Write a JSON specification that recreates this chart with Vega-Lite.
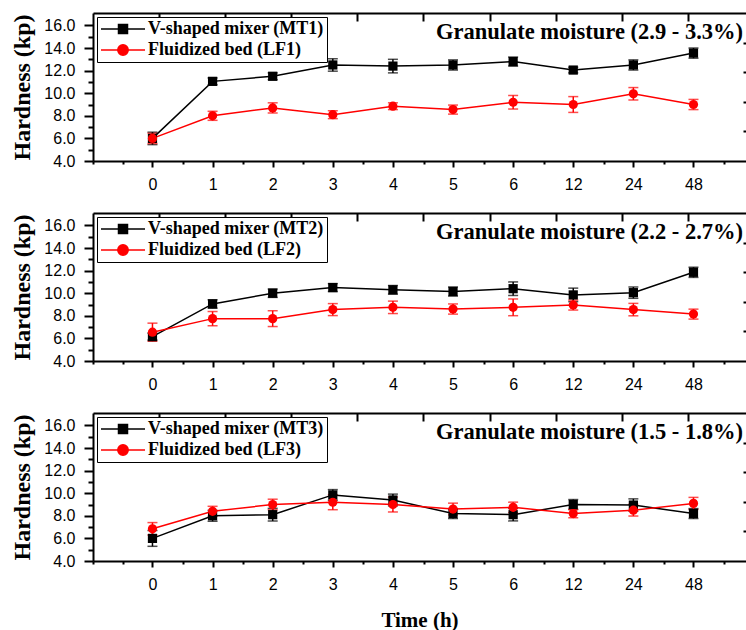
{
  "$schema": "https://vega.github.io/schema/vega-lite/v6.json",
  "padding": {"left": 10, "top": 12, "right": 0, "bottom": 0},
  "background": "white",
  "bounds": "flush",
  "spacing": 52,
  "datasets": {
    "d": [
      {"p":1,"s":"V-shaped mixer (MT1)","t":"0","h":6.0,"e":0.55},
      {"p":1,"s":"V-shaped mixer (MT1)","t":"1","h":11.05,"e":0.3},
      {"p":1,"s":"V-shaped mixer (MT1)","t":"2","h":11.5,"e":0.3},
      {"p":1,"s":"V-shaped mixer (MT1)","t":"3","h":12.5,"e":0.55},
      {"p":1,"s":"V-shaped mixer (MT1)","t":"4","h":12.4,"e":0.6},
      {"p":1,"s":"V-shaped mixer (MT1)","t":"5","h":12.5,"e":0.45},
      {"p":1,"s":"V-shaped mixer (MT1)","t":"6","h":12.8,"e":0.4},
      {"p":1,"s":"V-shaped mixer (MT1)","t":"12","h":12.05,"e":0.25},
      {"p":1,"s":"V-shaped mixer (MT1)","t":"24","h":12.5,"e":0.45},
      {"p":1,"s":"V-shaped mixer (MT1)","t":"48","h":13.55,"e":0.45},
      {"p":1,"s":"Fluidized bed (LF1)","t":"0","h":6.0,"e":0.45},
      {"p":1,"s":"Fluidized bed (LF1)","t":"1","h":8.0,"e":0.4},
      {"p":1,"s":"Fluidized bed (LF1)","t":"2","h":8.7,"e":0.45},
      {"p":1,"s":"Fluidized bed (LF1)","t":"3","h":8.1,"e":0.35},
      {"p":1,"s":"Fluidized bed (LF1)","t":"4","h":8.85,"e":0.3},
      {"p":1,"s":"Fluidized bed (LF1)","t":"5","h":8.55,"e":0.4},
      {"p":1,"s":"Fluidized bed (LF1)","t":"6","h":9.2,"e":0.6},
      {"p":1,"s":"Fluidized bed (LF1)","t":"12","h":9.0,"e":0.7},
      {"p":1,"s":"Fluidized bed (LF1)","t":"24","h":9.95,"e":0.55},
      {"p":1,"s":"Fluidized bed (LF1)","t":"48","h":9.0,"e":0.45},
      {"p":2,"s":"V-shaped mixer (MT2)","t":"0","h":6.15,"e":0.3},
      {"p":2,"s":"V-shaped mixer (MT2)","t":"1","h":9.05,"e":0.37},
      {"p":2,"s":"V-shaped mixer (MT2)","t":"2","h":10.0,"e":0.37},
      {"p":2,"s":"V-shaped mixer (MT2)","t":"3","h":10.5,"e":0.35},
      {"p":2,"s":"V-shaped mixer (MT2)","t":"4","h":10.3,"e":0.38},
      {"p":2,"s":"V-shaped mixer (MT2)","t":"5","h":10.15,"e":0.4},
      {"p":2,"s":"V-shaped mixer (MT2)","t":"6","h":10.4,"e":0.6},
      {"p":2,"s":"V-shaped mixer (MT2)","t":"12","h":9.85,"e":0.6},
      {"p":2,"s":"V-shaped mixer (MT2)","t":"24","h":10.05,"e":0.5},
      {"p":2,"s":"V-shaped mixer (MT2)","t":"48","h":11.85,"e":0.45},
      {"p":2,"s":"Fluidized bed (LF2)","t":"0","h":6.55,"e":0.8},
      {"p":2,"s":"Fluidized bed (LF2)","t":"1","h":7.75,"e":0.63},
      {"p":2,"s":"Fluidized bed (LF2)","t":"2","h":7.75,"e":0.7},
      {"p":2,"s":"Fluidized bed (LF2)","t":"3","h":8.55,"e":0.53},
      {"p":2,"s":"Fluidized bed (LF2)","t":"4","h":8.75,"e":0.55},
      {"p":2,"s":"Fluidized bed (LF2)","t":"5","h":8.6,"e":0.45},
      {"p":2,"s":"Fluidized bed (LF2)","t":"6","h":8.75,"e":0.74},
      {"p":2,"s":"Fluidized bed (LF2)","t":"12","h":8.95,"e":0.44},
      {"p":2,"s":"Fluidized bed (LF2)","t":"24","h":8.55,"e":0.55},
      {"p":2,"s":"Fluidized bed (LF2)","t":"48","h":8.15,"e":0.44},
      {"p":3,"s":"V-shaped mixer (MT3)","t":"0","h":6.0,"e":0.7},
      {"p":3,"s":"V-shaped mixer (MT3)","t":"1","h":8.0,"e":0.48},
      {"p":3,"s":"V-shaped mixer (MT3)","t":"2","h":8.1,"e":0.56},
      {"p":3,"s":"V-shaped mixer (MT3)","t":"3","h":9.85,"e":0.47},
      {"p":3,"s":"V-shaped mixer (MT3)","t":"4","h":9.4,"e":0.52},
      {"p":3,"s":"V-shaped mixer (MT3)","t":"5","h":8.2,"e":0.44},
      {"p":3,"s":"V-shaped mixer (MT3)","t":"6","h":8.1,"e":0.55},
      {"p":3,"s":"V-shaped mixer (MT3)","t":"12","h":9.0,"e":0.44},
      {"p":3,"s":"V-shaped mixer (MT3)","t":"24","h":8.95,"e":0.55},
      {"p":3,"s":"V-shaped mixer (MT3)","t":"48","h":8.2,"e":0.44},
      {"p":3,"s":"Fluidized bed (LF3)","t":"0","h":6.85,"e":0.55},
      {"p":3,"s":"Fluidized bed (LF3)","t":"1","h":8.4,"e":0.44},
      {"p":3,"s":"Fluidized bed (LF3)","t":"2","h":9.0,"e":0.47},
      {"p":3,"s":"Fluidized bed (LF3)","t":"3","h":9.2,"e":0.66},
      {"p":3,"s":"Fluidized bed (LF3)","t":"4","h":9.0,"e":0.66},
      {"p":3,"s":"Fluidized bed (LF3)","t":"5","h":8.6,"e":0.52},
      {"p":3,"s":"Fluidized bed (LF3)","t":"6","h":8.75,"e":0.46},
      {"p":3,"s":"Fluidized bed (LF3)","t":"12","h":8.2,"e":0.37},
      {"p":3,"s":"Fluidized bed (LF3)","t":"24","h":8.5,"e":0.52},
      {"p":3,"s":"Fluidized bed (LF3)","t":"48","h":9.1,"e":0.53}
    ]
  },
  "vconcat": [
    {
      "width": 653, "height": 148,
      "title": {"text": "Granulate moisture (2.9 - 3.3%)", "anchor": "end", "frame": "group", "orient": "top", "offset": -42, "baseline": "middle", "dx": -3, "font": "Liberation Serif", "fontSize": 22.5, "fontWeight": "bold", "color": "black"},
      "layer": [
        {
          "data": {"name": "d"},
          "transform": [{"filter": "datum.p === 1"}],
          "encoding": {
            "x": {"field": "t", "type": "ordinal", "scale": {"type": "point", "domain": ["0","1","2","3","4","5","6","12","24","48"], "padding": 0.9315, "align": 0.531}, "axis": {"labelAngle": 0, "tickSize": 6, "labelPadding": 9, "title": null}},
            "y": {"field": "h", "type": "quantitative", "scale": {"domain": [4, 17.1], "nice": false, "zero": false}, "axis": {"values": [4,6,8,10,12,14,16], "format": ".1f", "tickSize": 9, "labelPadding": 9, "title": "Hardness (kp)", "titlePadding": 9}},
            "color": {"field": "s", "type": "nominal", "scale": {"domain": ["V-shaped mixer (MT1)", "Fluidized bed (LF1)"], "range": ["#000000", "#ff0000"]},
              "legend": {"title": null, "orient": "top-left", "offset": 4, "padding": 3, "rowPadding": 3, "symbolSize": 100, "labelOffset": 30, "labelFont": "Liberation Serif", "labelFontSize": 18, "labelFontWeight": "bold", "labelColor": "black", "labelLimit": 400, "strokeColor": "black", "fillColor": "white",
                "encode": {"symbols": {"update": {
                  "shape": {"signal": "datum.index === 0 ? 'M-1.6,0H7.2M1.9,-0.9H3.7V0.9H1.9Z' : 'M-1.6,0H7.2M3.84,0A1.04,1.04,0,1,1,1.76,0A1.04,1.04,0,1,1,3.84,0Z'"},
                  "size": {"value": 100},
                  "fill": {"signal": "datum.index === 0 ? '#000000' : '#ff0000'"},
                  "stroke": {"signal": "datum.index === 0 ? '#000000' : '#ff0000'"},
                  "strokeWidth": {"value": 1.5},
                  "opacity": {"value": 1}, "fillOpacity": {"value": 1}, "strokeOpacity": {"value": 1}
                }}}}}
          },
          "layer": [
            {"mark": {"type": "errorbar", "ticks": {"size": 10, "thickness": 1.5}, "rule": {"strokeWidth": 1.5}}, "encoding": {"yError": {"field": "e"}}},
            {"mark": {"type": "line", "strokeWidth": 1.5}},
            {"transform": [{"filter": "indexof(datum.s, 'V-shaped') === 0"}], "mark": {"type": "point", "shape": "square", "filled": true, "opacity": 1, "size": 85}},
            {"transform": [{"filter": "indexof(datum.s, 'Fluidized') === 0"}], "mark": {"type": "point", "shape": "circle", "filled": true, "opacity": 1, "size": 85}}
          ]
        },
        {
          "data": {"values": [{}]},
          "mark": {"type": "point", "opacity": 0},
          "encoding": {
            "x": {"datum": 0, "type": "quantitative", "scale": {"domain": [-1, 9.865], "nice": false, "zero": false}, "axis": {"orient": "bottom", "values": [-1,-0.5,0.5,1.5,2.5,3.5,4.5,5.5,6.5,7.5,8.5,9.5], "labels": false, "domain": false, "title": null, "tickSize": 3}},
            "y": {"datum": 4, "type": "quantitative", "scale": {"domain": [4, 17.1], "nice": false, "zero": false}, "axis": {"orient": "left", "values": [5,7,9,11,13,15], "labels": false, "domain": false, "title": null, "tickSize": 5}}
          }
        },
        {
          "data": {"values": [{}]},
          "mark": {"type": "point", "opacity": 0},
          "encoding": {
            "x": {"datum": 0, "type": "quantitative", "scale": {"domain": [0, 9.88], "nice": false, "zero": false}, "axis": {"orient": "top", "values": [1,2,3,4,5,6,7,8,9], "labels": false, "domain": true, "title": null, "tickSize": -8}},
            "y": {"datum": 0, "type": "quantitative", "scale": {"domain": [0, 5], "nice": false, "zero": false}, "axis": {"orient": "right", "values": [1,2,3,4], "labels": false, "domain": false, "title": null, "tickSize": -3}}
          }
        }
      ],
      "resolve": {"scale": {"x": "independent", "y": "independent"}, "axis": {"x": "independent", "y": "independent"}}
    },
    {
      "width": 653, "height": 148,
      "title": {"text": "Granulate moisture (2.2 - 2.7%)", "anchor": "end", "frame": "group", "orient": "top", "offset": -42, "baseline": "middle", "dx": -3, "font": "Liberation Serif", "fontSize": 22.5, "fontWeight": "bold", "color": "black"},
      "layer": [
        {
          "data": {"name": "d"},
          "transform": [{"filter": "datum.p === 2"}],
          "encoding": {
            "x": {"field": "t", "type": "ordinal", "scale": {"type": "point", "domain": ["0","1","2","3","4","5","6","12","24","48"], "padding": 0.9315, "align": 0.531}, "axis": {"labelAngle": 0, "tickSize": 6, "labelPadding": 9, "title": null}},
            "y": {"field": "h", "type": "quantitative", "scale": {"domain": [4, 17.1], "nice": false, "zero": false}, "axis": {"values": [4,6,8,10,12,14,16], "format": ".1f", "tickSize": 9, "labelPadding": 9, "title": "Hardness (kp)", "titlePadding": 9}},
            "color": {"field": "s", "type": "nominal", "scale": {"domain": ["V-shaped mixer (MT2)", "Fluidized bed (LF2)"], "range": ["#000000", "#ff0000"]},
              "legend": {"title": null, "orient": "top-left", "offset": 4, "padding": 3, "rowPadding": 3, "symbolSize": 100, "labelOffset": 30, "labelFont": "Liberation Serif", "labelFontSize": 18, "labelFontWeight": "bold", "labelColor": "black", "labelLimit": 400, "strokeColor": "black", "fillColor": "white",
                "encode": {"symbols": {"update": {
                  "shape": {"signal": "datum.index === 0 ? 'M-1.6,0H7.2M1.9,-0.9H3.7V0.9H1.9Z' : 'M-1.6,0H7.2M3.84,0A1.04,1.04,0,1,1,1.76,0A1.04,1.04,0,1,1,3.84,0Z'"},
                  "size": {"value": 100},
                  "fill": {"signal": "datum.index === 0 ? '#000000' : '#ff0000'"},
                  "stroke": {"signal": "datum.index === 0 ? '#000000' : '#ff0000'"},
                  "strokeWidth": {"value": 1.5},
                  "opacity": {"value": 1}, "fillOpacity": {"value": 1}, "strokeOpacity": {"value": 1}
                }}}}}
          },
          "layer": [
            {"mark": {"type": "errorbar", "ticks": {"size": 10, "thickness": 1.5}, "rule": {"strokeWidth": 1.5}}, "encoding": {"yError": {"field": "e"}}},
            {"mark": {"type": "line", "strokeWidth": 1.5}},
            {"transform": [{"filter": "indexof(datum.s, 'V-shaped') === 0"}], "mark": {"type": "point", "shape": "square", "filled": true, "opacity": 1, "size": 85}},
            {"transform": [{"filter": "indexof(datum.s, 'Fluidized') === 0"}], "mark": {"type": "point", "shape": "circle", "filled": true, "opacity": 1, "size": 85}}
          ]
        },
        {
          "data": {"values": [{}]},
          "mark": {"type": "point", "opacity": 0},
          "encoding": {
            "x": {"datum": 0, "type": "quantitative", "scale": {"domain": [-1, 9.865], "nice": false, "zero": false}, "axis": {"orient": "bottom", "values": [-1,-0.5,0.5,1.5,2.5,3.5,4.5,5.5,6.5,7.5,8.5,9.5], "labels": false, "domain": false, "title": null, "tickSize": 3}},
            "y": {"datum": 4, "type": "quantitative", "scale": {"domain": [4, 17.1], "nice": false, "zero": false}, "axis": {"orient": "left", "values": [5,7,9,11,13,15], "labels": false, "domain": false, "title": null, "tickSize": 5}}
          }
        },
        {
          "data": {"values": [{}]},
          "mark": {"type": "point", "opacity": 0},
          "encoding": {
            "x": {"datum": 0, "type": "quantitative", "scale": {"domain": [0, 9.88], "nice": false, "zero": false}, "axis": {"orient": "top", "values": [1,2,3,4,5,6,7,8,9], "labels": false, "domain": true, "title": null, "tickSize": -8}},
            "y": {"datum": 0, "type": "quantitative", "scale": {"domain": [0, 5], "nice": false, "zero": false}, "axis": {"orient": "right", "values": [1,2,3,4], "labels": false, "domain": false, "title": null, "tickSize": -3}}
          }
        }
      ],
      "resolve": {"scale": {"x": "independent", "y": "independent"}, "axis": {"x": "independent", "y": "independent"}}
    },
    {
      "width": 653, "height": 148,
      "title": {"text": "Granulate moisture (1.5 - 1.8%)", "anchor": "end", "frame": "group", "orient": "top", "offset": -42, "baseline": "middle", "dx": -3, "font": "Liberation Serif", "fontSize": 22.5, "fontWeight": "bold", "color": "black"},
      "layer": [
        {
          "data": {"name": "d"},
          "transform": [{"filter": "datum.p === 3"}],
          "encoding": {
            "x": {"field": "t", "type": "ordinal", "scale": {"type": "point", "domain": ["0","1","2","3","4","5","6","12","24","48"], "padding": 0.9315, "align": 0.531}, "axis": {"labelAngle": 0, "tickSize": 6, "labelPadding": 9, "title": "Time (h)", "titleFontSize": 21, "titlePadding": 17}},
            "y": {"field": "h", "type": "quantitative", "scale": {"domain": [4, 17.1], "nice": false, "zero": false}, "axis": {"values": [4,6,8,10,12,14,16], "format": ".1f", "tickSize": 9, "labelPadding": 9, "title": "Hardness (kp)", "titlePadding": 9}},
            "color": {"field": "s", "type": "nominal", "scale": {"domain": ["V-shaped mixer (MT3)", "Fluidized bed (LF3)"], "range": ["#000000", "#ff0000"]},
              "legend": {"title": null, "orient": "top-left", "offset": 4, "padding": 3, "rowPadding": 3, "symbolSize": 100, "labelOffset": 30, "labelFont": "Liberation Serif", "labelFontSize": 18, "labelFontWeight": "bold", "labelColor": "black", "labelLimit": 400, "strokeColor": "black", "fillColor": "white",
                "encode": {"symbols": {"update": {
                  "shape": {"signal": "datum.index === 0 ? 'M-1.6,0H7.2M1.9,-0.9H3.7V0.9H1.9Z' : 'M-1.6,0H7.2M3.84,0A1.04,1.04,0,1,1,1.76,0A1.04,1.04,0,1,1,3.84,0Z'"},
                  "size": {"value": 100},
                  "fill": {"signal": "datum.index === 0 ? '#000000' : '#ff0000'"},
                  "stroke": {"signal": "datum.index === 0 ? '#000000' : '#ff0000'"},
                  "strokeWidth": {"value": 1.5},
                  "opacity": {"value": 1}, "fillOpacity": {"value": 1}, "strokeOpacity": {"value": 1}
                }}}}}
          },
          "layer": [
            {"mark": {"type": "errorbar", "ticks": {"size": 10, "thickness": 1.5}, "rule": {"strokeWidth": 1.5}}, "encoding": {"yError": {"field": "e"}}},
            {"mark": {"type": "line", "strokeWidth": 1.5}},
            {"transform": [{"filter": "indexof(datum.s, 'V-shaped') === 0"}], "mark": {"type": "point", "shape": "square", "filled": true, "opacity": 1, "size": 85}},
            {"transform": [{"filter": "indexof(datum.s, 'Fluidized') === 0"}], "mark": {"type": "point", "shape": "circle", "filled": true, "opacity": 1, "size": 85}}
          ]
        },
        {
          "data": {"values": [{}]},
          "mark": {"type": "point", "opacity": 0},
          "encoding": {
            "x": {"datum": 0, "type": "quantitative", "scale": {"domain": [-1, 9.865], "nice": false, "zero": false}, "axis": {"orient": "bottom", "values": [-1,-0.5,0.5,1.5,2.5,3.5,4.5,5.5,6.5,7.5,8.5,9.5], "labels": false, "domain": false, "title": null, "tickSize": 3}},
            "y": {"datum": 4, "type": "quantitative", "scale": {"domain": [4, 17.1], "nice": false, "zero": false}, "axis": {"orient": "left", "values": [5,7,9,11,13,15], "labels": false, "domain": false, "title": null, "tickSize": 5}}
          }
        },
        {
          "data": {"values": [{}]},
          "mark": {"type": "point", "opacity": 0},
          "encoding": {
            "x": {"datum": 0, "type": "quantitative", "scale": {"domain": [0, 9.88], "nice": false, "zero": false}, "axis": {"orient": "top", "values": [1,2,3,4,5,6,7,8,9], "labels": false, "domain": true, "title": null, "tickSize": -8}},
            "y": {"datum": 0, "type": "quantitative", "scale": {"domain": [0, 5], "nice": false, "zero": false}, "axis": {"orient": "right", "values": [1,2,3,4], "labels": false, "domain": false, "title": null, "tickSize": -3}}
          }
        }
      ],
      "resolve": {"scale": {"x": "independent", "y": "independent"}, "axis": {"x": "independent", "y": "independent"}}
    }
  ],
  "resolve": {"scale": {"color": "independent"}, "legend": {"color": "independent"}},
  "config": {
    "view": {"stroke": null},
    "axis": {"domainColor": "black", "domainWidth": 2, "tickColor": "black", "tickWidth": 2, "labelFont": "Liberation Sans", "labelFontSize": 16, "labelColor": "black", "titleFont": "Liberation Serif", "titleFontSize": 24, "titleFontWeight": "bold", "titleColor": "black", "grid": false}
  }
}
